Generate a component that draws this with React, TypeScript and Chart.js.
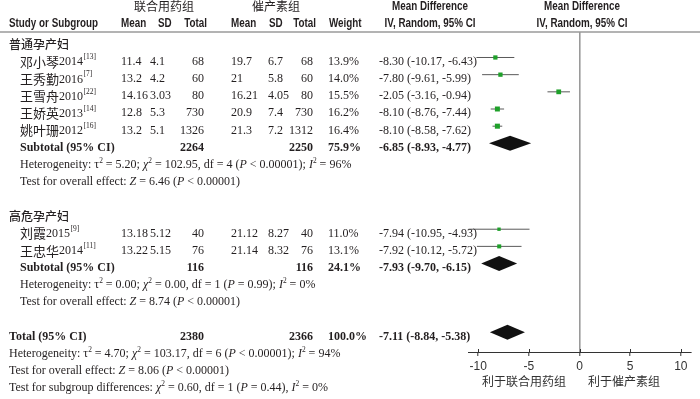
import React, { useEffect, useRef } from 'react';
import { Chart, registerables } from 'chart.js';

Chart.register(...registerables);

// ---------------- data ----------------
const groupNames = ['普通孕产妇', '高危孕产妇'];
const studyNames = ['邓小琴', '王秀勤', '王雪舟', '王娇英', '姚叶珊', '刘霞', '王忠华'];
const studyYears = ['2014', '2016', '2010', '2013', '2012', '2015', '2014'];
const studyRefs = ['[13]', '[7]', '[22]', '[14]', '[16]', '[9]', '[11]'];
const studyGroup = [0, 0, 0, 0, 0, 1, 1];
const expMean = [11.4, 13.2, 14.16, 12.8, 13.2, 13.18, 13.22];
const expSD = [4.1, 4.2, 3.03, 5.3, 5.1, 5.12, 5.15];
const expTotal = [68, 60, 80, 730, 1326, 40, 76];
const ctlMean = [19.7, 21, 16.21, 20.9, 21.3, 21.12, 21.14];
const ctlSD = [6.7, 5.8, 4.05, 7.4, 7.2, 8.27, 8.32];
const ctlTotal = [68, 60, 80, 730, 1312, 40, 76];
const weights = [13.9, 14.0, 15.5, 16.2, 16.4, 11.0, 13.1];
const meanDiff = [-8.3, -7.8, -2.05, -8.1, -8.1, -7.94, -7.92];
const ciLow = [-10.17, -9.61, -3.16, -8.76, -8.58, -10.95, -10.12];
const ciHigh = [-6.43, -5.99, -0.94, -7.44, -7.62, -4.93, -5.72];

const pooledLabels = ['Subtotal (95% CI)', 'Subtotal (95% CI)', 'Total (95% CI)'];
const pooledExpTotal = [2264, 116, 2380];
const pooledCtlTotal = [2250, 116, 2366];
const pooledWeight = [75.9, 24.1, 100.0];
const pooledMD = [-6.85, -7.93, -7.11];
const pooledLow = [-8.93, -9.7, -8.84];
const pooledHigh = [-4.77, -6.15, -5.38];
const heterogeneity = [
  'Heterogeneity: τ^2 = 5.20; _χ_^2 = 102.95, df = 4 (_P_ < 0.00001); _I_^2 = 96%',
  'Heterogeneity: τ^2 = 0.00; _χ_^2 = 0.00, df = 1 (_P_ = 0.99); _I_^2 = 0%',
  'Heterogeneity: τ^2 = 4.70; _χ_^2 = 103.17, df = 6 (_P_ < 0.00001); _I_^2 = 94%',
];
const overallEffect = [
  'Test for overall effect: _Z_ = 6.46 (_P_ < 0.00001)',
  'Test for overall effect: _Z_ = 8.74 (_P_ < 0.00001)',
  'Test for overall effect: _Z_ = 8.06 (_P_ < 0.00001)',
];
const subgroupDiff = 'Test for subgroup differences: _χ_^2 = 0.60, df = 1 (_P_ = 0.44), _I_^2 = 0%';
const groupHeaders = ['联合用药组', '催产素组'];
const columnHeaders = ['Study or Subgroup', 'Mean', 'SD', 'Total', 'Mean', 'SD', 'Total', 'Weight'];
const mdHeaderTop = 'Mean Difference';
const mdHeaderBottom = 'IV, Random, 95% CI';
const xTicks = [-10, -5, 0, 5, 10];
const favoursLabels = ['利于联合用药组', '利于催产素组'];

// ---------------- row layout ----------------
type RowItem = { kind: string; idx: number; row: number };
const rows: RowItem[] = [];
{
  let r = 0;
  groupNames.forEach((_, gi) => {
    rows.push({ kind: 'group', idx: gi, row: r++ });
    studyGroup.forEach((g, si) => {
      if (g === gi) rows.push({ kind: 'study', idx: si, row: r++ });
    });
    rows.push({ kind: 'pooled', idx: gi, row: r++ });
    rows.push({ kind: 'het', idx: gi, row: r++ });
    rows.push({ kind: 'effect', idx: gi, row: r++ });
    r++;
  });
  rows.push({ kind: 'pooled', idx: 2, row: r++ });
  rows.push({ kind: 'het', idx: 2, row: r++ });
  rows.push({ kind: 'effect', idx: 2, row: r++ });
  rows.push({ kind: 'subdiff', idx: 0, row: r++ });
}
const rowOf = (kind: string, idx: number) => rows.find((r) => r.kind === kind && r.idx === idx)!.row;
const MARK_OFF = 0.25;

// ---------------- styles ----------------
const INK = '#231f20';
const SERIF = "'Liberation Serif', 'Times New Roman', serif";
const SANS = "'Liberation Sans', Arial, sans-serif";
const CJK = "'Noto Sans CJK SC', sans-serif";
const FS = 12;
const GREEN = '#1fa02a';

function drawRich(ctx: CanvasRenderingContext2D, src: string, x: number, y: number, bold = false) {
  const parts = src.split(/(_[^_]+_|\^\d)/).filter(Boolean);
  let cx = x;
  ctx.textAlign = 'left';
  for (const p of parts) {
    let t = p;
    let italic = false;
    let sup = false;
    if (p.length > 2 && p.startsWith('_') && p.endsWith('_')) {
      t = p.slice(1, -1);
      italic = true;
    } else if (p.startsWith('^')) {
      t = p.slice(1);
      sup = true;
    }
    const fs = sup ? FS * 0.62 : FS;
    ctx.font = `${italic ? 'italic ' : ''}${bold ? 'bold ' : ''}${fs}px ${SERIF}`;
    ctx.fillText(t, cx, sup ? y - FS * 0.33 : y);
    cx += ctx.measureText(t).width;
  }
}

function narrow(ctx: CanvasRenderingContext2D, t: string, x: number, y: number, align: CanvasTextAlign) {
  ctx.save();
  ctx.translate(x, y);
  ctx.scale(0.82, 1);
  ctx.font = `bold 12px ${SANS}`;
  ctx.textAlign = align;
  ctx.fillText(t, 0, 0);
  ctx.restore();
}

function serif(ctx: CanvasRenderingContext2D, t: string, x: number, y: number, align: CanvasTextAlign, bold = false) {
  ctx.font = `${bold ? 'bold ' : ''}${FS}px ${SERIF}`;
  ctx.textAlign = align;
  ctx.fillText(t, x, y);
}

const mdText = (m: number, lo: number, hi: number) => `${m.toFixed(2)} (${lo.toFixed(2)}, ${hi.toFixed(2)})`;

const forestPlugin = {
  id: 'forestText',
  afterDatasetsDraw(chart: any) {
    const ctx: CanvasRenderingContext2D = chart.ctx;
    const xs = chart.scales.x;
    const ys = chart.scales.y;
    ctx.save();
    ctx.fillStyle = '#111';
    pooledMD.forEach((m, pi) => {
      const y = ys.getPixelForValue(rowOf('pooled', pi) - MARK_OFF);
      const h = 7.5;
      ctx.beginPath();
      ctx.moveTo(xs.getPixelForValue(pooledLow[pi]), y);
      ctx.lineTo(xs.getPixelForValue(m), y - h);
      ctx.lineTo(xs.getPixelForValue(pooledHigh[pi]), y);
      ctx.lineTo(xs.getPixelForValue(m), y + h);
      ctx.closePath();
      ctx.fill();
    });
    // tick marks crossing above the axis line
    ctx.strokeStyle = '#333';
    ctx.lineWidth = 1;
    const b = chart.chartArea.bottom;
    xs.ticks.forEach((t: any) => {
      const px = Math.round(xs.getPixelForValue(t.value)) + 0.5;
      ctx.beginPath();
      ctx.moveTo(px, b - 3);
      ctx.lineTo(px, b);
      ctx.stroke();
    });
    ctx.restore();
  },
  afterDraw(chart: any) {
    const ctx: CanvasRenderingContext2D = chart.ctx;
    const ys = chart.scales.y;
    const Y = (r: number) => ys.getPixelForValue(r);
    const top = chart.chartArea.top;
    ctx.save();
    ctx.strokeStyle = '#9a9a9a';
    ctx.lineWidth = 1.6;
    ctx.beginPath();
    ctx.moveTo(0, top);
    ctx.lineTo(chart.width, top);
    ctx.stroke();

    ctx.fillStyle = INK;
    ctx.textBaseline = 'middle';
    const h1 = Y(-2.2);
    const h2 = Y(-1.2);
    ctx.font = `12px ${CJK}`;
    ctx.textAlign = 'center';
    ctx.fillText(groupHeaders[0], 164, h1);
    ctx.fillText(groupHeaders[1], 276, h1);
    narrow(ctx, mdHeaderTop, 430, h1, 'center');
    narrow(ctx, mdHeaderTop, 582, h1, 'center');
    narrow(ctx, columnHeaders[0], 9, h2, 'left');
    narrow(ctx, columnHeaders[1], 121, h2, 'left');
    narrow(ctx, columnHeaders[2], 158, h2, 'left');
    narrow(ctx, columnHeaders[3], 207, h2, 'right');
    narrow(ctx, columnHeaders[4], 231, h2, 'left');
    narrow(ctx, columnHeaders[5], 269, h2, 'left');
    narrow(ctx, columnHeaders[6], 316, h2, 'right');
    narrow(ctx, columnHeaders[7], 329, h2, 'left');
    narrow(ctx, mdHeaderBottom, 430, h2, 'center');
    narrow(ctx, mdHeaderBottom, 582, h2, 'center');

    rows.forEach((r) => {
      const y = Y(r.row);
      if (r.kind === 'group') {
        ctx.font = `500 12px ${CJK}`;
        ctx.textAlign = 'left';
        ctx.fillText(groupNames[r.idx], 9, y);
      } else if (r.kind === 'study') {
        const i = r.idx;
        ctx.font = `13px ${CJK}`;
        ctx.textAlign = 'left';
        let cx = 20;
        ctx.fillText(studyNames[i], cx, y);
        cx += ctx.measureText(studyNames[i]).width;
        ctx.font = `${FS}px ${SERIF}`;
        ctx.fillText(studyYears[i], cx, y + 0.5);
        cx += ctx.measureText(studyYears[i]).width + 0.5;
        ctx.font = `7.5px ${SERIF}`;
        ctx.fillText(studyRefs[i], cx, y - 4.5);
        serif(ctx, String(expMean[i]), 121, y, 'left');
        serif(ctx, String(expSD[i]), 150, y, 'left');
        serif(ctx, String(expTotal[i]), 204, y, 'right');
        serif(ctx, String(ctlMean[i]), 231, y, 'left');
        serif(ctx, String(ctlSD[i]), 268, y, 'left');
        serif(ctx, String(ctlTotal[i]), 313, y, 'right');
        serif(ctx, weights[i].toFixed(1) + '%', 328, y, 'left');
        serif(ctx, mdText(meanDiff[i], ciLow[i], ciHigh[i]), 379, y, 'left');
      } else if (r.kind === 'pooled') {
        const i = r.idx;
        const x0 = i === 2 ? 9 : 20;
        serif(ctx, pooledLabels[i], x0, y, 'left', true);
        serif(ctx, String(pooledExpTotal[i]), 204, y, 'right', true);
        serif(ctx, String(pooledCtlTotal[i]), 313, y, 'right', true);
        serif(ctx, pooledWeight[i].toFixed(1) + '%', 328, y, 'left', true);
        serif(ctx, mdText(pooledMD[i], pooledLow[i], pooledHigh[i]), 379, y, 'left', true);
      } else if (r.kind === 'het') {
        drawRich(ctx, heterogeneity[r.idx], r.idx === 2 ? 9 : 20, y);
      } else if (r.kind === 'effect') {
        drawRich(ctx, overallEffect[r.idx], r.idx === 2 ? 9 : 20, y);
      } else if (r.kind === 'subdiff') {
        drawRich(ctx, subgroupDiff, 9, y);
      }
    });

    ctx.fillStyle = '#333';
    ctx.font = `12px ${CJK}`;
    ctx.textAlign = 'center';
    ctx.fillText(favoursLabels[0], 524, 381);
    ctx.fillText(favoursLabels[1], 624, 381);
    ctx.restore();
  },
};

export default function App() {
  const ref = useRef<HTMLCanvasElement | null>(null);
  useEffect(() => {
    if (!ref.current) return;
    const ciSets = meanDiff.map((_, i) => {
      const yv = rowOf('study', i) - MARK_OFF;
      return {
        type: 'scatter' as const,
        data: [
          { x: ciLow[i], y: yv },
          { x: ciHigh[i], y: yv },
        ],
        showLine: true,
        borderColor: '#5a5a5a',
        borderWidth: 1,
        pointRadius: 0,
        order: 2,
      };
    });
    const pointSet = {
      type: 'scatter' as const,
      data: meanDiff.map((m, i) => ({ x: m, y: rowOf('study', i) - MARK_OFF })),
      pointStyle: 'rect',
      pointRadius: weights.map((w) => w / 4.6),
      backgroundColor: GREEN,
      borderWidth: 0,
      order: 1,
    };
    const chart = new Chart(ref.current, {
      type: 'scatter',
      data: { datasets: [...ciSets, pointSet] as any },
      plugins: [forestPlugin],
      options: {
        responsive: false,
        animation: false,
        devicePixelRatio: 1,
        layout: { padding: { left: 468, right: 9, top: 32, bottom: 0 } },
        plugins: { legend: { display: false }, tooltip: { enabled: false } },
        scales: {
          x: {
            type: 'linear',
            min: -11,
            max: 11,
            afterBuildTicks: (s: any) => {
              s.ticks = xTicks.map((v) => ({ value: v }));
            },
            afterFit: (s: any) => {
              s.height = 47;
            },
            grid: {
              color: (c: any) => (c.tick && c.tick.value === 0 ? '#9a9a9a' : 'rgba(0,0,0,0)'),
              lineWidth: 1.6,
              drawTicks: true,
              tickLength: 4,
              tickColor: '#333',
              tickWidth: 1,
            },
            border: { display: true, color: '#333', width: 1 },
            ticks: {
              color: '#333',
              font: { family: "'Liberation Sans Narrow', 'Arial Narrow', 'Liberation Sans', Arial", size: 12 },
              padding: 3,
              maxRotation: 0,
              autoSkip: false,
            },
          },
          y: { type: 'linear', display: false, reverse: true, min: -0.734, max: 17.9 },
        },
      } as any,
    });
    return () => chart.destroy();
  }, []);
  return (
    <div style={{ position: 'absolute', left: 0, top: 0, width: 700, height: 399, background: '#fff' }}>
      <canvas ref={ref} width={700} height={399} style={{ display: 'block', width: 700, height: 399 }} />
    </div>
  );
}
